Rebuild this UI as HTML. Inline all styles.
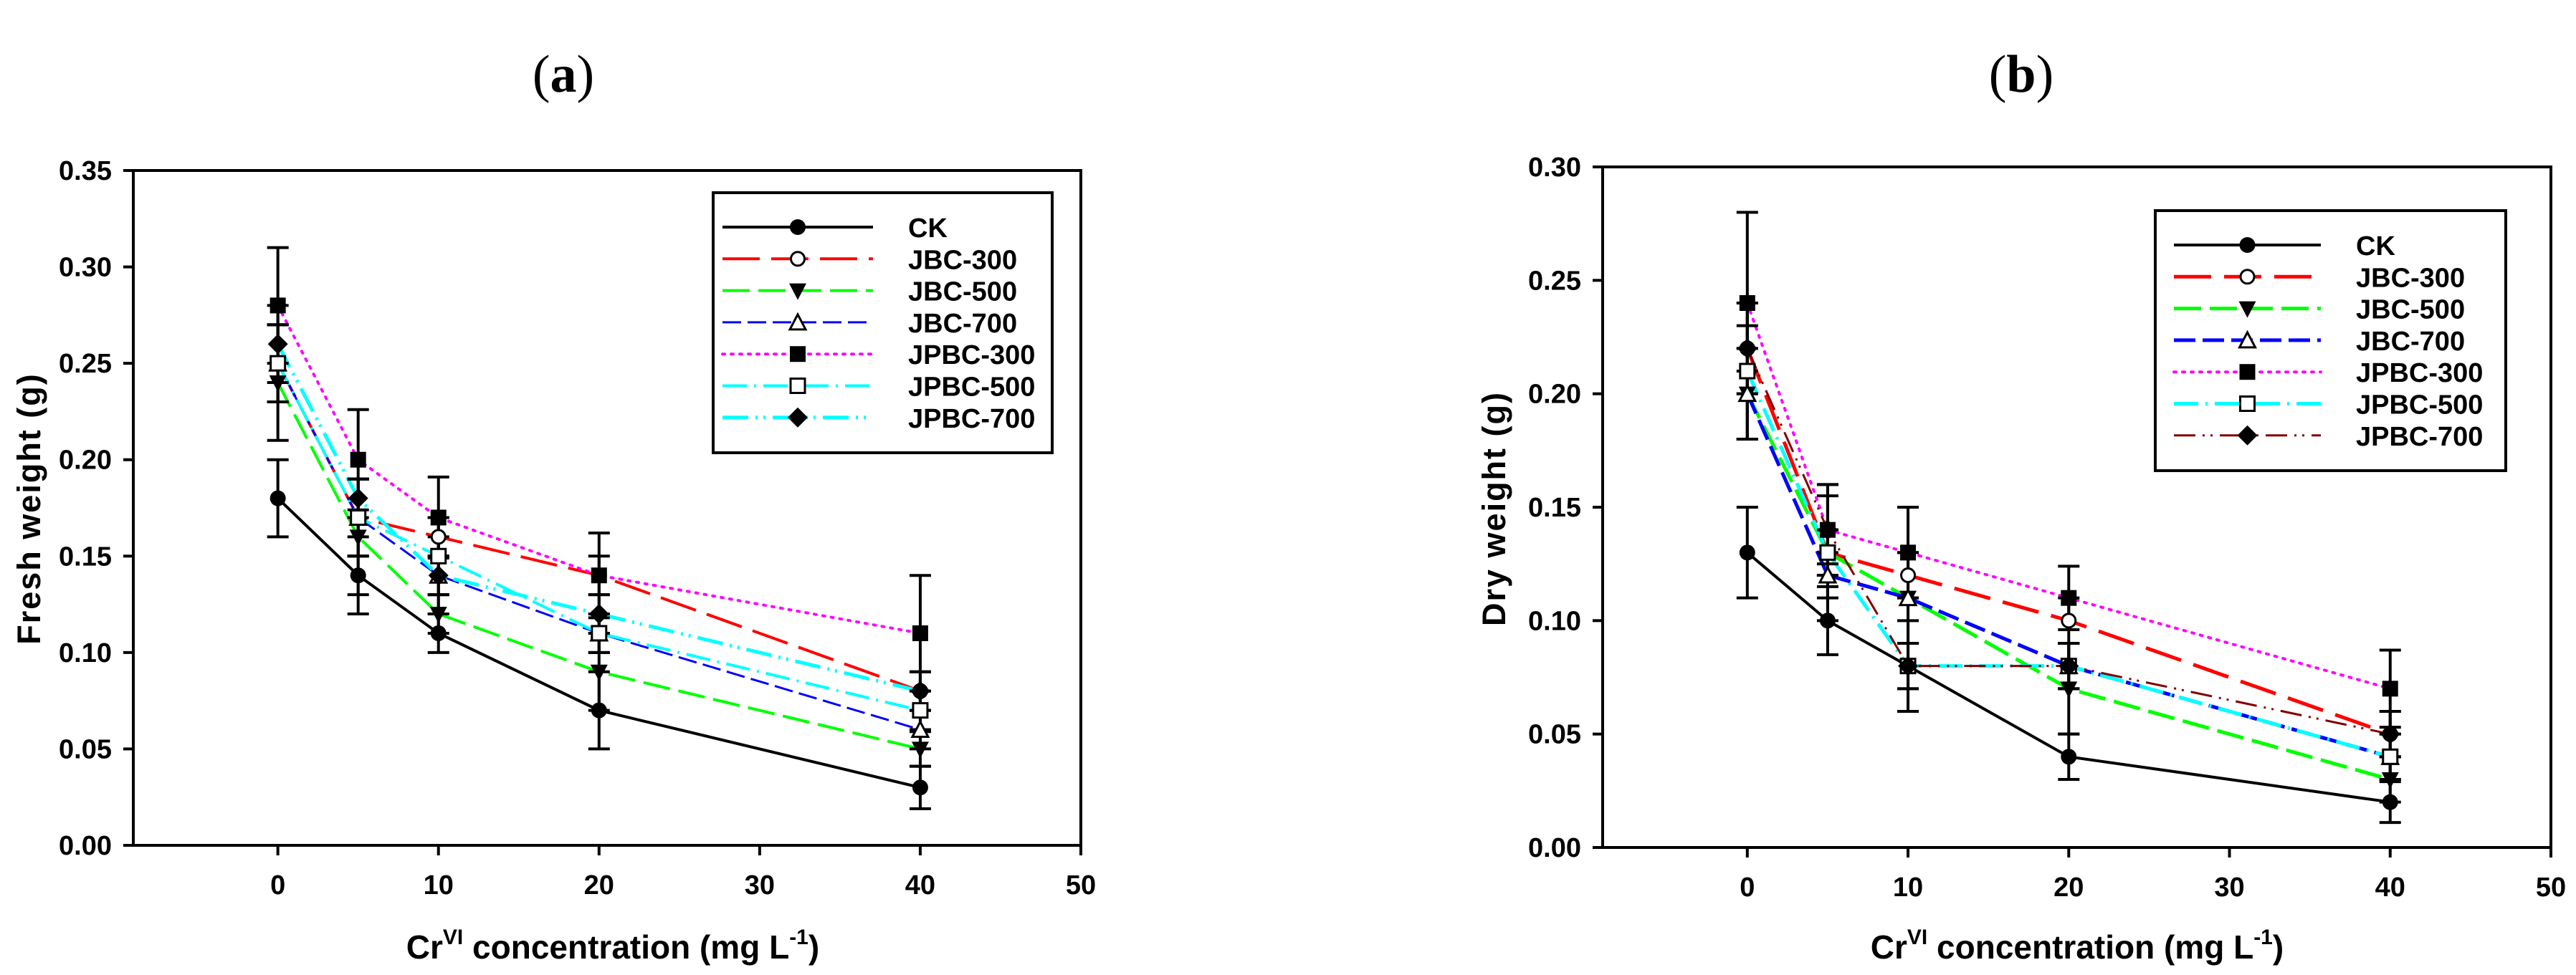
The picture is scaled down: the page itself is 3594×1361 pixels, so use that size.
<!DOCTYPE html>
<html><head><meta charset="utf-8">
<style>
html,body{margin:0;padding:0;background:#fff;}
svg{display:block;}
.tk{font-family:"Liberation Sans Narrow","Liberation Sans",sans-serif;font-weight:bold;font-size:38px;}
.lg{font-family:"Liberation Sans Narrow","Liberation Sans",sans-serif;font-weight:bold;font-size:38px;}
.yt{font-family:"Liberation Sans",sans-serif;font-weight:bold;font-size:45px;letter-spacing:2px;}
.xt{font-family:"Liberation Sans Narrow","Liberation Sans",sans-serif;font-weight:bold;font-size:46px;}
.pt{font-family:"Liberation Serif",serif;font-size:74px;}
</style></head>
<body>
<svg id="chart" width="3594" height="1361" viewBox="0 0 3594 1361" xmlns="http://www.w3.org/2000/svg">
<rect width="3594" height="1361" fill="#fff"/>
<text class="pt" x="786" y="128" text-anchor="middle">(<tspan font-weight="bold">a</tspan>)</text>
<text class="pt" x="2820" y="128" text-anchor="middle">(<tspan font-weight="bold">b</tspan>)</text>
</svg>
<script>
const xs = [0, 5, 10, 20, 40];
const xTicks = [0, 10, 20, 30, 40, 50];
const aYTicks = [0, 0.05, 0.10, 0.15, 0.20, 0.25, 0.30, 0.35];
const aYTickLabels = ["0.00","0.05","0.10","0.15","0.20","0.25","0.30","0.35"];
const bYTicks = [0, 0.05, 0.10, 0.15, 0.20, 0.25, 0.30];
const bYTickLabels = ["0.00","0.05","0.10","0.15","0.20","0.25","0.30"];
const seriesNames = ["CK","JBC-300","JBC-500","JBC-700","JPBC-300","JPBC-500","JPBC-700"];

const aVal = [
  [0.18,0.14,0.11,0.07,0.03],
  [0.25,0.17,0.16,0.14,0.08],
  [0.24,0.16,0.12,0.09,0.05],
  [0.25,0.17,0.14,0.11,0.06],
  [0.28,0.20,0.17,0.14,0.11],
  [0.25,0.17,0.15,0.11,0.07],
  [0.26,0.18,0.14,0.12,0.08]
];
const aErr = [
  [0.02,0.02,0.01,0.02,0.011],
  [0.02,0.02,0.01,0.01,0.01],
  [0.03,0.03,0.01,0.02,0.009],
  [0.02,0.02,0.02,0.01,0.01],
  [0.03,0.026,0.021,0.022,0.03],
  [0.02,0.02,0.02,0.01,0.01],
  [0.02,0.01,0.01,0.01,0.01]
];
const bVal = [
  [0.13,0.10,0.08,0.04,0.02],
  [0.22,0.13,0.12,0.10,0.05],
  [0.20,0.13,0.11,0.07,0.03],
  [0.20,0.12,0.11,0.08,0.04],
  [0.24,0.14,0.13,0.11,0.07],
  [0.21,0.13,0.08,0.08,0.04],
  [0.22,0.14,0.08,0.08,0.05]
];
const bErr = [
  [0.02,0.015,0.02,0.01,0.009],
  [0.01,0.01,0.01,0.01,0.01],
  [0.02,0.03,0.02,0.02,0.01],
  [0.02,0.01,0.02,0.01,0.01],
  [0.04,0.02,0.02,0.014,0.017],
  [0.03,0.01,0.01,0.01,0.01],
  [0.02,0.015,0.01,0.01,0.01]
];

const NS = "http://www.w3.org/2000/svg";
const svg = document.getElementById("chart");
function mk(tag, attrs, parent) {
  const e = document.createElementNS(NS, tag);
  for (const k in attrs) e.setAttribute(k, attrs[k]);
  (parent || svg).appendChild(e);
  return e;
}

const stylesA = [
  {c:"#000000", w:4, d:""},
  {c:"#ff0000", w:4, d:"52 16"},
  {c:"#00ff00", w:4, d:"38 12"},
  {c:"#0000ff", w:3, d:"26 9"},
  {c:"#ff00ff", w:4, d:"3 9"},
  {c:"#00ffff", w:4, d:"34 10 3 10"},
  {c:"#00ffff", w:5, d:"36 10 3 8 3 10"}
];
const stylesB = [
  {c:"#000000", w:4, d:""},
  {c:"#ff0000", w:5, d:"52 18"},
  {c:"#00ff00", w:5, d:"38 12"},
  {c:"#0000ff", w:5, d:"30 10"},
  {c:"#ff00ff", w:4, d:"3 9"},
  {c:"#00ffff", w:5, d:"34 10 3 10"},
  {c:"#800000", w:3, d:"30 10 3 8 3 10"}
];
const markers = ["circleF","circleO","triDownF","triUpO","squareF","squareO","diamondF"];

function drawMarker(g, type, cx, cy) {
  const r = 11;
  let el;
  if (type === "circleF") el = mk("circle", {cx:cx, cy:cy, r:r, fill:"#000"}, g);
  else if (type === "circleO") el = mk("circle", {cx:cx, cy:cy, r:r-1.5, fill:"#fff", stroke:"#000", "stroke-width":3}, g);
  else if (type === "triDownF") el = mk("polygon", {points:`${cx-12},${cy-10} ${cx+12},${cy-10} ${cx},${cy+13}`, fill:"#000"}, g);
  else if (type === "triUpO") el = mk("polygon", {points:`${cx-11},${cy+10} ${cx+11},${cy+10} ${cx},${cy-11}`, fill:"#fff", stroke:"#000", "stroke-width":3}, g);
  else if (type === "squareF") el = mk("rect", {x:cx-11, y:cy-11, width:22, height:22, fill:"#000"}, g);
  else if (type === "squareO") el = mk("rect", {x:cx-10, y:cy-10, width:20, height:20, fill:"#fff", stroke:"#000", "stroke-width":3}, g);
  else el = mk("polygon", {points:`${cx},${cy-14} ${cx+14},${cy} ${cx},${cy+14} ${cx-14},${cy}`, fill:"#000"}, g);
  
  
  return el;
}

function panel(cfg) {
  const P = mk("g", {});
  
  
  const xmin = -9, xmax = 50;
  const X = v => cfg.L + (v - xmin) / (xmax - xmin) * (cfg.R - cfg.L);
  const Y = v => cfg.B - (v - 0) / cfg.ymax * (cfg.B - cfg.T);

  for (let s = 0; s < cfg.vals.length; s++) {
    const st = cfg.styles[s];
    const g = mk("g", {}, P);
    
    
    const pts = xs.map((x, i) => X(x) + "," + Y(cfg.vals[s][i])).join(" ");
    const ln = mk("polyline", {points:pts, fill:"none", stroke:st.c, "stroke-width":st.w, "stroke-dasharray":st.d, "stroke-linecap": st.d==="3 9" ? "round" : "butt"}, g);
    
    
  }
  for (let s = 0; s < cfg.vals.length; s++) {
    const g = mk("g", {}, P);
    
    
    xs.forEach((x, i) => {
      const v = cfg.vals[s][i], e = cfg.errs[s][i];
      const cx = X(x), y1 = Y(v + e), y2 = Y(v - e);
      const eb = mk("path", {d:`M${cx},${y1}V${y2}M${cx-15},${y1}H${cx+15}M${cx-15},${y2}H${cx+15}`, stroke:"#000", "stroke-width":4, fill:"none"}, g);
      
      
    });
  }
  for (let s = 0; s < cfg.vals.length; s++) {
    const g = mk("g", {}, P);
    
    
    xs.forEach((x, i) => drawMarker(g, markers[s], X(x), Y(cfg.vals[s][i])));
  }

  const fr = mk("rect", {x:cfg.L, y:cfg.T, width:cfg.R-cfg.L, height:cfg.B-cfg.T, fill:"none", stroke:"#000", "stroke-width":4}, P);
  
  

  const yg = mk("g", {}, P);
  
  
  cfg.yTicks.forEach((t, i) => {
    const y = Y(t);
    mk("line", {x1:cfg.L-14, x2:cfg.L, y1:y, y2:y, stroke:"#000", "stroke-width":4}, yg);
    const tx = mk("text", {x:cfg.L-30, y:y+13, "text-anchor":"end", class:"tk"}, yg);
    tx.textContent = cfg.yLabels[i];
    
    
  });
  const xg = mk("g", {}, P);
  
  
  xTicks.forEach(t => {
    const x = X(t);
    mk("line", {x1:x, x2:x, y1:cfg.B, y2:cfg.B+14, stroke:"#000", "stroke-width":4}, xg);
    const tx = mk("text", {x:x, y:cfg.B+68, "text-anchor":"middle", class:"tk"}, xg);
    tx.textContent = String(t);
    
    
  });

  const yt = mk("text", {x:0, y:0, "text-anchor":"middle", class:"yt", transform:`translate(${cfg.ytx},710) rotate(-90)`}, P);
  yt.textContent = cfg.ytitle;
  
  
  const xt = mk("text", {x:cfg.xtx, y:1338, "text-anchor":"middle", class:"xt"}, P);
  
  
  const t1 = mk("tspan", {}, xt); t1.textContent = "Cr";
  const t2 = mk("tspan", {dy:-20, "font-size":"30px"}, xt); t2.textContent = "VI";
  const t3 = mk("tspan", {dy:20}, xt); t3.textContent = " concentration (mg L";
  const t4 = mk("tspan", {dy:-20, "font-size":"30px"}, xt); t4.textContent = "-1";
  const t5 = mk("tspan", {dy:20}, xt); t5.textContent = ")";

  const lg = mk("g", {}, P);
  
  
  const lb = mk("rect", {x:cfg.lgL, y:cfg.lgT, width:cfg.lgR-cfg.lgL, height:cfg.lgB-cfg.lgT, fill:"#fff", stroke:"#000", "stroke-width":4}, lg);
  
  
  seriesNames.forEach((n, s) => {
    const st = cfg.styles[s];
    const y = cfg.lgRow0 + s * 44.3;
    const e = mk("g", {}, lg);
    
    
    mk("line", {x1:cfg.lgL1, x2:cfg.lgL2, y1:y, y2:y, stroke:st.c, "stroke-width":st.w, "stroke-dasharray":st.d, "stroke-linecap": st.d==="3 9" ? "round" : "butt"}, e);
    drawMarker(e, markers[s], (cfg.lgL1+cfg.lgL2)/2, y);
    const tx = mk("text", {x:cfg.lgTx, y:y+14, class:"lg"}, e);
    tx.textContent = n;
  });
}

panel({id:"panel-a", L:186, R:1508, T:238, B:1180, ymax:0.35, vals:aVal, errs:aErr, styles:stylesA,
  yTicks:aYTicks, yLabels:aYTickLabels, ytitle:"Fresh weight (g)", ytx:56, xtx:855,
  lgL:995, lgR:1468, lgT:269, lgB:632, lgRow0:317, lgL1:1008, lgL2:1218, lgTx:1267});
panel({id:"panel-b", L:2236, R:3559, T:233, B:1183, ymax:0.30, vals:bVal, errs:bErr, styles:stylesB,
  yTicks:bYTicks, yLabels:bYTickLabels, ytitle:"Dry weight (g)", ytx:2100, xtx:2898,
  lgL:3007, lgR:3496, lgT:294, lgB:657, lgRow0:342, lgL1:3033, lgL2:3238, lgTx:3287});
</script>
</body></html>
